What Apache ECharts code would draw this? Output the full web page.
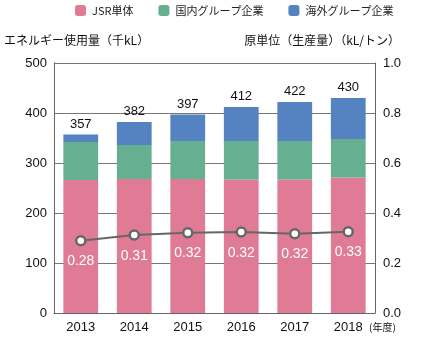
<!DOCTYPE html>
<html><head><meta charset="utf-8">
<script src="https://cdn.jsdelivr.net/npm/echarts@6/dist/echarts.min.js"></script>
<style>html,body{margin:0;padding:0;background:#fff}#c{width:423px;height:340px}</style>
</head><body><div id="c"></div>
<script>
const years = ['2013','2014','2015','2016','2017','2018'];
const jsr = [266, 268, 268, 267, 267, 271];
const domestic = [76, 68, 76, 77, 77, 77];
const overseas = [15, 46, 53, 68, 78, 82];
const totals = [357, 382, 397, 412, 422, 430];
const ratio = [0.289, 0.312, 0.321, 0.324, 0.317, 0.325];
const ratioLabels = ['0.28', '0.31', '0.32', '0.32', '0.32', '0.33'];
const leftTicks = {min: 0, max: 500, interval: 100};
const rightTicks = {min: 0, max: 1.0, interval: 0.2};

const font = 'Liberation Sans, Noto Sans CJK JP, sans-serif';
const chart = echarts.init(document.getElementById('c'));
chart.setOption({
  animation: false,
  textStyle: {fontFamily: font},
  legend: {
    top: 5, left: 75, width: 348, padding: 0,
    itemWidth: 11, itemHeight: 11, itemGap: 25,
    textStyle: {fontSize: 11, color: '#222', fontFamily: 'Noto Sans CJK JP', padding: [0, 0, 0, 1]},
    data: ['JSR単体', '国内グループ企業', '海外グループ企業']
  },
  grid: {left: 54, right: 48, top: 63, bottom: 27},
  xAxis: {
    type: 'category', data: years,
    axisLine: {lineStyle: {color: '#666', width: 1}},
    axisTick: {show: false},
    axisLabel: {color: '#111', fontSize: 13, margin: 8},
    name: '(年度)', nameLocation: 'end', nameGap: 2,
    nameTextStyle: {fontSize: 10, color: '#111', verticalAlign: 'top', padding: [9, 0, 0, -8], fontFamily: 'Noto Sans CJK JP'}
  },
  yAxis: [{
    type: 'value', min: leftTicks.min, max: leftTicks.max, interval: leftTicks.interval,
    name: 'エネルギー使用量（千kL）', nameLocation: 'end', nameGap: 17,
    nameTextStyle: {fontSize: 12, color: '#111', align: 'left', padding: [0, 0, 0, -50], fontFamily: 'Noto Sans CJK JP'},
    axisLine: {show: true, lineStyle: {color: '#666'}},
    axisTick: {show: false},
    axisLabel: {color: '#111', fontSize: 13, margin: 7},
    splitLine: {lineStyle: {color: '#777', width: 1}}
  }, {
    type: 'value', min: rightTicks.min, max: rightTicks.max, interval: rightTicks.interval,
    name: '原単位（生産量）（kL/トン）', nameLocation: 'end', nameGap: 17,
    nameTextStyle: {fontSize: 12, color: '#111', align: 'right', padding: [0, -25, 0, 0], fontFamily: 'Noto Sans CJK JP'},
    axisLine: {show: true, lineStyle: {color: '#666'}},
    axisTick: {show: false},
    axisLabel: {color: '#111', fontSize: 13, margin: 8, formatter: v => v.toFixed(1)},
    splitLine: {show: false}
  }],
  series: [{
    name: 'JSR単体', type: 'bar', stack: 'e', data: jsr, barWidth: '65%',
    itemStyle: {color: '#E07B96'}
  }, {
    name: '国内グループ企業', type: 'bar', stack: 'e', data: domestic,
    itemStyle: {color: '#66AF91'}
  }, {
    name: '海外グループ企業', type: 'bar', stack: 'e', data: overseas,
    itemStyle: {color: '#5582C0'},
    label: {show: true, position: 'top', color: '#111', fontSize: 13, distance: 4,
      formatter: p => totals[p.dataIndex]}
  }, {
    name: 'ratio', type: 'line', yAxisIndex: 1, data: ratio,
    symbol: 'circle', symbolSize: 9,
    lineStyle: {color: '#666', width: 2},
    itemStyle: {color: '#fff', borderColor: '#666', borderWidth: 2.5},
    label: {show: true, position: 'bottom', distance: 8, color: '#fff', fontSize: 14,
      formatter: p => ratioLabels[p.dataIndex]},
    z: 5
  }]
});
</script></body></html>
